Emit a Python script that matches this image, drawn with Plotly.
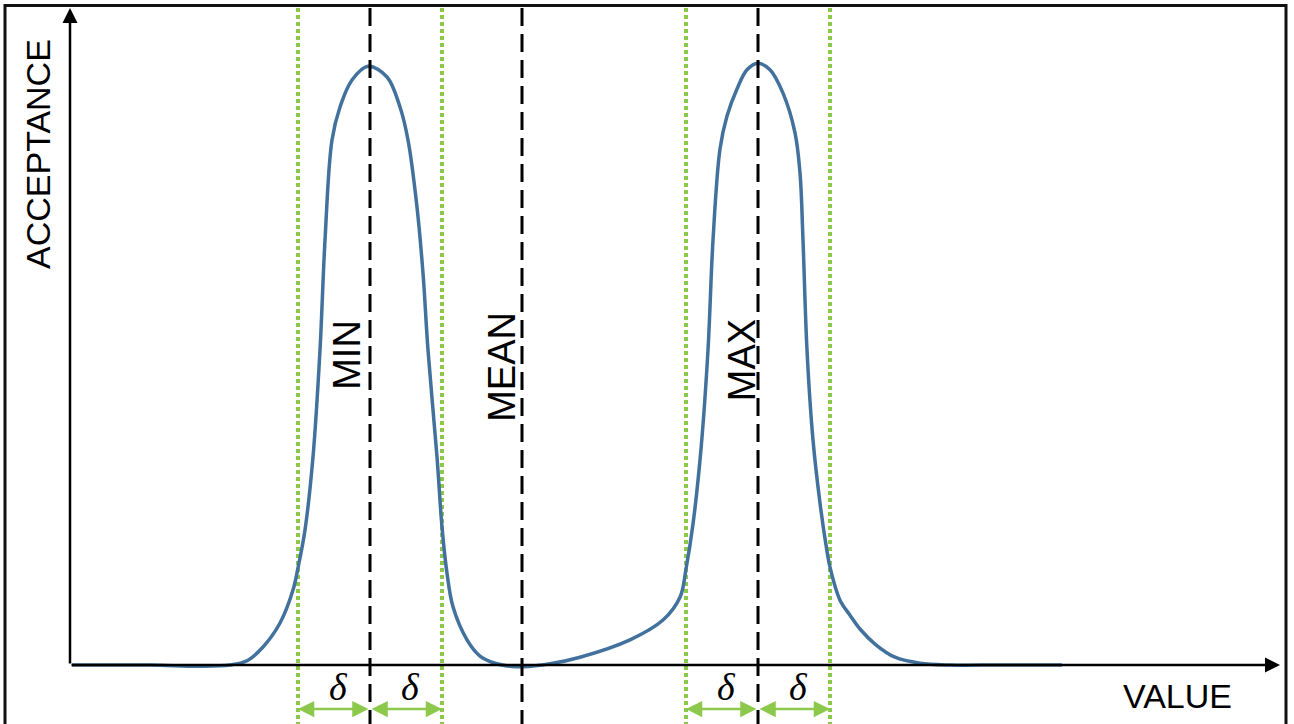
import plotly.graph_objects as go


# =====================================
# DATA
# =====================================

curve_value = [
    0.2, 8.0, 13.0, 16.0, 17.7, 19.3, 21.0, 22.3, 22.8, 23.5, 24.3, 25.0,
    25.5, 26.2, 27.0, 28.2, 29.8, 31.7, 33.0, 33.8, 34.7, 35.3, 35.8, 36.7,
    37.2, 37.7, 38.3, 39.7, 41.0, 42.5, 44.0, 45.3, 48.0, 51.0, 56.0, 59.3,
    61.0, 61.6, 62.3, 63.1, 63.8, 64.3, 65.0, 65.7, 66.7, 67.7, 68.8, 70.0,
    71.3, 72.5, 73.0, 73.3, 73.7, 74.3, 75.0, 75.6, 76.0, 77.0, 78.0, 79.0,
    80.5, 82.5, 85.0, 88.0, 93.0, 99.2
]

curve_acceptance = [
    0.0, 0.0, -0.002, 0.0, 0.007, 0.03, 0.07, 0.125, 0.162, 0.225, 0.347, 0.525,
    0.708, 0.875, 0.93, 0.975, 0.998, 0.98, 0.93, 0.875, 0.763, 0.653, 0.525, 0.347,
    0.23, 0.153, 0.097, 0.042, 0.015, 0.003, -0.002, -0.003, 0.002, 0.013, 0.042, 0.075,
    0.113, 0.16, 0.235, 0.36, 0.525, 0.708, 0.86, 0.915, 0.96, 0.992, 1.003, 0.992,
    0.953, 0.887, 0.82, 0.708, 0.525, 0.375, 0.27, 0.2, 0.163, 0.108, 0.083, 0.06,
    0.035, 0.013, 0.003, 0.0, 0.0, 0.0
]

marker_names = ["MIN", "MEAN", "MAX"]
marker_values = [30.0, 45.2, 68.8]
delta = 7.2
delta_label = "δ"

x_title = "VALUE"
y_title = "ACCEPTANCE"


# =====================================
# STYLE
# =====================================

X_RANGE = [-7.0, 122.4]
Y_RANGE = [-0.0983, 1.1083]
TOP = 1.095
CURVE_COLOR = "#41719c"
GREEN = "#8cc84b"
FONT = "Liberation Sans"

fig = go.Figure()

fig.add_trace(
    go.Scatter(
        x=curve_value,
        y=curve_acceptance,
        mode="lines",
        line=dict(color=CURVE_COLOR, width=3.5, shape="spline", smoothing=1.0),
        hoverinfo="skip",
        showlegend=False
    )
)

# dashed marker lines
for value in marker_values:
    fig.add_shape(
        type="line", xref="x", yref="y",
        x0=value, x1=value, y0=Y_RANGE[0] - 0.05, y1=TOP,
        line=dict(color="black", width=3, dash="18px,8px"),
        layer="above"
    )

# tolerance lines and delta arrows around MIN and MAX
for name, value in zip(marker_names, marker_values):
    if name == "MEAN":
        continue
    for side in (-1, 1):
        edge = value + side * delta
        fig.add_shape(
            type="line", xref="x", yref="y",
            x0=edge, x1=edge, y0=Y_RANGE[0] - 0.05, y1=TOP,
            line=dict(color=GREEN, width=4, dash="4px,3px"),
            layer="below"
        )
        fig.add_annotation(
            x=edge, y=-0.0733, ax=value, ay=-0.0733,
            xref="x", yref="y", axref="x", ayref="y",
            text="", showarrow=True,
            arrowhead=2, startarrowhead=2, arrowside="end+start",
            arrowsize=1.3, startarrowsize=1.3,
            arrowwidth=2.5, arrowcolor=GREEN
        )
        fig.add_annotation(
            x=value + side * delta / 2 + 0.4, y=-0.036,
            xref="x", yref="y",
            text="<i>" + delta_label + "</i>", showarrow=False,
            font=dict(family="Liberation Serif", size=38, color="black")
        )

# marker labels
label_pos = {"MIN": (27.7, 0.517), "MEAN": (43.2, 0.497), "MAX": (67.2, 0.508)}
for name in marker_names:
    lx, ly = label_pos[name]
    fig.add_annotation(
        x=lx, y=ly, xref="x", yref="y",
        xanchor="center", yanchor="middle",
        text=name, showarrow=False, textangle=-90,
        font=dict(family=FONT, size=38, color="black")
    )

# axes as arrows
fig.add_annotation(
    x=121.0, y=0, ax=0, ay=0,
    xref="x", yref="y", axref="x", ayref="y",
    text="", showarrow=True, arrowhead=2, arrowsize=1.2,
    arrowwidth=2.5, arrowcolor="black"
)
fig.add_annotation(
    x=0, y=TOP, ax=0, ay=0,
    xref="x", yref="y", axref="x", ayref="y",
    text="", showarrow=True, arrowhead=2, arrowsize=1.2,
    arrowwidth=2.5, arrowcolor="black"
)

fig.add_annotation(
    x=110.7, y=-0.052, xref="x", yref="y",
    xanchor="center", yanchor="middle",
    text=x_title, showarrow=False,
    font=dict(family=FONT, size=34, color="black")
)
fig.add_annotation(
    x=38 / 1294, y=1 - 154 / 724, xref="paper", yref="paper",
    xanchor="center", yanchor="middle",
    text=y_title, showarrow=False, textangle=-90,
    font=dict(family=FONT, size=34, color="black")
)

# frame
fig.add_shape(
    type="rect", xref="paper", yref="paper",
    x0=5 / 1294, x1=1286 / 1294, y0=-0.05, y1=1 - 5.5 / 724,
    line=dict(color="#111111", width=3)
)

fig.update_xaxes(range=X_RANGE, visible=False, fixedrange=True)
fig.update_yaxes(range=Y_RANGE, visible=False, fixedrange=True)

fig.update_layout(
    width=1294,
    height=724,
    margin=dict(l=0, r=0, t=0, b=0),
    paper_bgcolor="white",
    plot_bgcolor="white",
    showlegend=False
)

fig.write_html(
    "out.html",
    config={"displayModeBar": False},
    post_script="document.body.style.margin='0';document.body.style.overflow='hidden';"
)
